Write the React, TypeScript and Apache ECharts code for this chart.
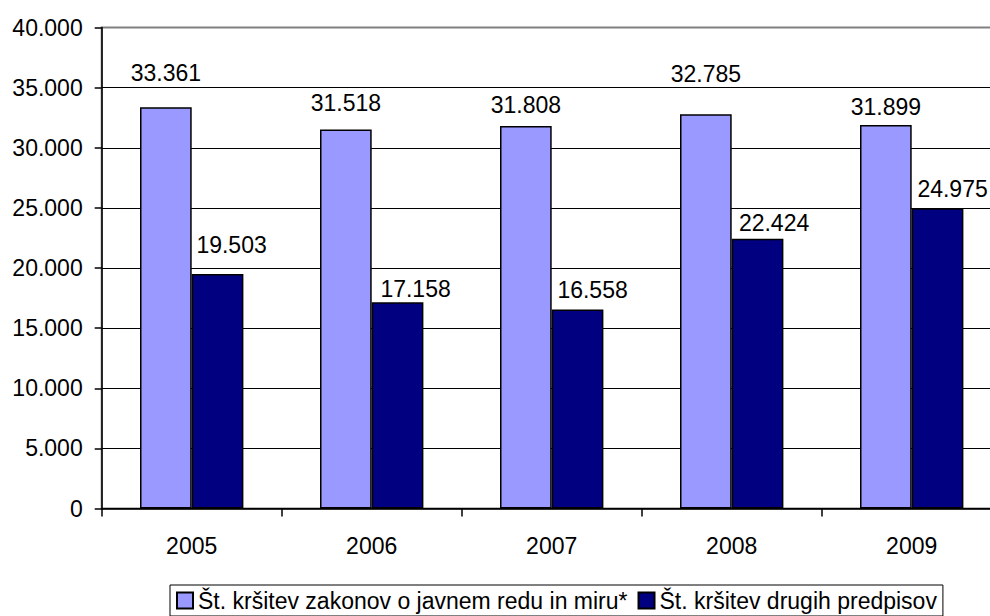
import React, { useEffect, useRef } from "react";
import * as echarts from "echarts";

const years = ["2005", "2006", "2007", "2008", "2009"];
const seriesNames = [
  "Št. kršitev zakonov o javnem redu in miru*",
  "Št. kršitev drugih predpisov",
];
const publicOrder = [33361, 31518, 31808, 32785, 31899];
const otherRules = [19503, 17158, 16558, 22424, 24975];
const yTicks = { min: 0, max: 40000, interval: 5000 };

// manual nudges of the value labels, as placed in the original
const lightNudge = [[0, -22.5], [0, -14.5], [0, -9.2], [0, -28.5], [0, -6.8]];
const darkNudge = [[14, -17.5], [18, -1.9], [15, -7.8], [16.5, -4.2], [15, -7.5]];

const FONT = "'Liberation Sans', Arial, sans-serif";
const fmt = (v: number) =>
  v === 0 ? "0" : String(Math.round(v)).replace(/\B(?=(\d{3})+(?!\d))/g, ".");

export default function App() {
  const ref = useRef<HTMLDivElement>(null);
  useEffect(() => {
    if (!ref.current) return;
    const chart = echarts.init(ref.current, null, { renderer: "svg" });
    const mk = (vals: number[], nudge: number[][]) =>
      vals.map((v, i) => ({ value: v, label: { offset: nudge[i] } }));
    chart.setOption({
      animation: false,
      backgroundColor: "#fff",
      textStyle: { fontFamily: FONT, color: "#000" },
      grid: {
        left: 101.7,
        top: 27.5,
        width: 900,
        height: 481,
        show: true,
        borderColor: "#808080",
        borderWidth: 2,
        backgroundColor: "transparent",
      },
      legend: {
        top: 585,
        left: 170,
        padding: [4, 6],
        itemGap: 10,
        itemWidth: 16,
        itemHeight: 16,
        borderColor: "#000",
        borderWidth: 1,
        textStyle: { fontFamily: FONT, fontSize: 23, color: "#000" },
        data: seriesNames.map((n) => ({ name: n, icon: "rect" })),
      },
      xAxis: {
        type: "category",
        data: years,
        axisLine: { lineStyle: { color: "#000", width: 1.5 } },
        axisTick: { show: true, length: 8, alignWithLabel: false, lineStyle: { color: "#000", width: 1.5 } },
        axisLabel: { fontFamily: FONT, fontSize: 23, color: "#000", margin: 26 },
      },
      yAxis: {
        type: "value",
        min: yTicks.min,
        max: yTicks.max,
        interval: yTicks.interval,
        axisLine: { show: true, lineStyle: { color: "#000", width: 1.5 } },
        axisTick: { show: true, length: 7, lineStyle: { color: "#000", width: 1.5 } },
        axisLabel: { fontFamily: FONT, fontSize: 23, color: "#000", margin: 19, formatter: fmt },
        splitLine: { show: true, showMaxLine: false, lineStyle: { color: "#000", width: 1 } },
      },
      series: [
        {
          name: seriesNames[0],
          type: "bar",
          barWidth: 51.7,
          barGap: "0%",
          data: mk(publicOrder, lightNudge),
          itemStyle: { color: "#9999FF", borderColor: "#000", borderWidth: 1.5 },
          label: {
            show: true,
            position: "top",
            distance: 0,
            fontFamily: FONT,
            fontSize: 23,
            color: "#000",
            formatter: (p: any) => fmt(p.value),
          },
        },
        {
          name: seriesNames[1],
          type: "bar",
          barWidth: 51.7,
          barGap: "0%",
          data: mk(otherRules, darkNudge),
          itemStyle: { color: "#000080", borderColor: "#000", borderWidth: 1.5 },
          label: {
            show: true,
            position: "top",
            distance: 0,
            fontFamily: FONT,
            fontSize: 23,
            color: "#000",
            formatter: (p: any) => fmt(p.value),
          },
        },
      ],
    });
    return () => chart.dispose();
  }, []);
  return (
    <div
      ref={ref}
      style={{ position: "fixed", left: 0, top: 0, width: 1010, height: 616 }}
    />
  );
}
